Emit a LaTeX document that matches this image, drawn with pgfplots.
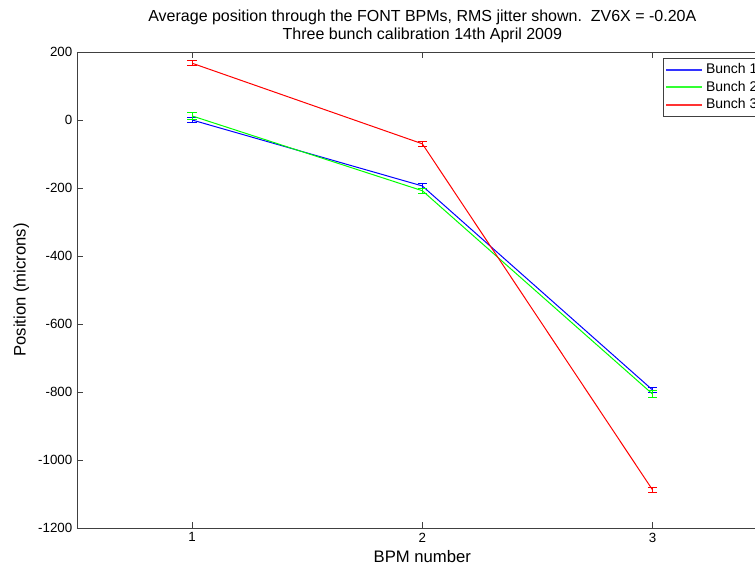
\documentclass[border=0pt]{standalone}
\usepackage{pgfplots}
\pgfplotsset{compat=1.18}
\usepackage{fontspec}
\setmainfont{Liberation Sans}

\begin{document}
\begin{tikzpicture}
\begin{axis}[
  scale only axis,
  width=518pt, height=357pt,
  xmin=0.5, xmax=3.5,
  ymin=-1200, ymax=200,
  xtick={1,2,3},
  ytick={-1200,-1000,-800,-600,-400,-200,0,200},
  tick align=inside,
  major tick length=4.5pt,
  axis line style={black!75},
  tick style={black!75},
  /pgf/number format/assume math mode=true,
  /pgf/number format/1000 sep={},
  tick label style={font=\fontsize{10}{12}\selectfont},
  xlabel={BPM number},
  ylabel={Position (microns)},
  label style={font=\fontsize{12.5}{14}\selectfont},
  xlabel style={yshift=1pt},
  title={Average position through the FONT BPMs, RMS jitter shown.\ \ ZV6X = -0.20A\\Three bunch calibration 14th April 2009},
  title style={align=center, font=\fontsize{12}{13.5}\selectfont, yshift=-3pt},
  legend style={at={(0.848,0.987)}, anchor=north west, draw=black!75,
                font=\fontsize{10.5}{12.75}\selectfont, row sep=0pt,
                inner sep=2pt},
  legend cell align=left,
  every axis plot/.append style={line width=0.75pt},
  error bars/error bar style={line width=0.75pt},
  error bars/error mark options={rotate=90, mark size=3.5pt, line width=0.75pt},
]
\coordinate (sw) at (rel axis cs:0,0);
% Bunch 1
\addplot[color=blue, mark=none, forget plot, error bars/.cd, y dir=both, y explicit]
  coordinates {(1,0) +- (0,8) (2,-194) +- (0,8) (3,-794) +- (0,8)};
% Bunch 2
\addplot[color=green, mark=none, forget plot, error bars/.cd, y dir=both, y explicit]
  coordinates {(1,12) +- (0,10) (2,-208) +- (0,8) (3,-806) +- (0,9)};
% Bunch 3
\addplot[color=red, mark=none, forget plot, error bars/.cd, y dir=both, y explicit]
  coordinates {(1,167) +- (0,8) (2,-70) +- (0,8) (3,-1088) +- (0,8)};
\addlegendimage{legend image code/.code={\draw[color=blue!80, line width=1.3pt] (0pt,0pt) -- (27pt,0pt);}}
\addlegendentry{Bunch 1}
\addlegendimage{legend image code/.code={\draw[color=green!80, line width=1.3pt] (0pt,0pt) -- (27pt,0pt);}}
\addlegendentry{Bunch 2}
\addlegendimage{legend image code/.code={\draw[color=red!80, line width=1.3pt] (0pt,0pt) -- (27pt,0pt);}}
\addlegendentry{Bunch 3}
\end{axis}
\pgfresetboundingbox
\path[use as bounding box] ([shift={(-57.75pt,-27.75pt)}]sw) rectangle ([shift={(508.5pt,396pt)}]sw);
\end{tikzpicture}
\end{document}
